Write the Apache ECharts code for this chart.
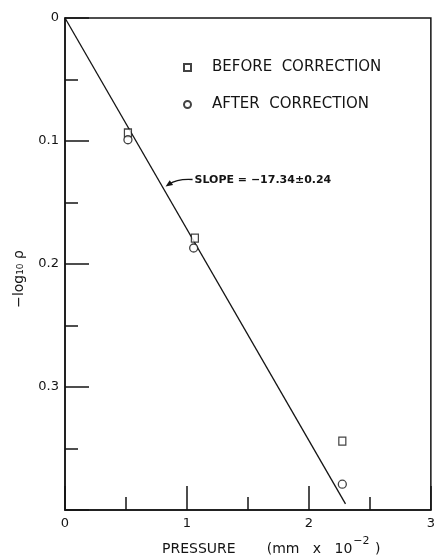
<!DOCTYPE html>
<html><head><meta charset="utf-8">
<script src="https://cdn.jsdelivr.net/npm/echarts@6/dist/echarts.min.js"></script>
<style>html,body{margin:0;padding:0;background:#fff}#c{width:438px;height:557px}</style>
</head><body><div id="c"></div>
<script>
// ---- data ----
const yTickLabels = ['0', '0.1', '0.2', '0.3', ''];
const xTickLabels = ['0', '1', '2', '3'];
const beforeX = [0.516, 1.065, 2.274];
const beforeY = [0.0935, 0.179, 0.344];
const afterX = [0.516, 1.055, 2.274];
const afterY = [0.099, 0.187, 0.379];
const fitX = [0, 2.30];
const fitY = [0, 0.395];
const seriesNames = ['BEFORE  CORRECTION', 'AFTER  CORRECTION'];
const slopeText = 'SLOPE = \u221217.34\u00b10.24';
const xTitleParts = ['PRESSURE       (mm   x   10', '\u22122', ' )'];
const yTitle = '\u2212log\u2081\u2080 \u03c1';

const INK = '#141414';
const FONT = 'DejaVu Sans';
const zip = (xs, ys) => xs.map((x, i) => [x, ys[i]]);

const chart = echarts.init(document.getElementById('c'), null, {renderer: 'canvas'});
const axisCommon = () => ({
  axisLine: {show: true, onZero: false, lineStyle: {color: INK, width: 1.5}},
  axisTick: {show: true, inside: true, length: 24, lineStyle: {color: INK, width: 1.5}},
  minorTick: {show: true, splitNumber: 2, length: 13, lineStyle: {color: INK, width: 1.5}},
  splitLine: {show: false},
  minorSplitLine: {show: false}
});
chart.setOption({
  animation: false,
  backgroundColor: '#fff',
  grid: {left: 65, right: 2, top: 18, bottom: 47, show: true, borderColor: INK, borderWidth: 1.5, backgroundColor: 'transparent'},
  xAxis: Object.assign({
    type: 'value', position: 'bottom', min: 0, max: 3, interval: 1,
    axisLabel: {color: INK, fontSize: 13, fontFamily: FONT, margin: 7,
      formatter: v => xTickLabels[Math.round(v)] || ''}
  }, axisCommon()),
  yAxis: Object.assign({
    type: 'value', position: 'left', min: 0, max: 0.4, interval: 0.1, inverse: true,
    axisLabel: {color: INK, fontSize: 13, fontFamily: FONT, margin: 6,
      formatter: v => yTickLabels[Math.round(v * 10)] || ''}
  }, axisCommon()),
  legend: {
    orient: 'vertical', left: 183, top: 60, itemGap: 22, padding: 0,
    itemWidth: 7, itemHeight: 7,
    data: [{name: seriesNames[0], icon: 'rect'}, {name: seriesNames[1], icon: 'circle'}],
    textStyle: {color: INK, fontSize: 15, fontFamily: FONT, lineHeight: 15, padding: [0, 0, 0, 16]}
  },
  series: [
    {type: 'line', data: zip(fitX, fitY), showSymbol: false, symbol: 'none',
     lineStyle: {color: INK, width: 1.3}, z: 2, silent: true},
    {type: 'scatter', name: seriesNames[0], symbol: 'rect', symbolSize: [7, 8],
     data: zip(beforeX, beforeY),
     itemStyle: {color: '#fff', borderColor: INK, borderWidth: 1.3}, z: 3},
    {type: 'scatter', name: seriesNames[1], symbol: 'circle', symbolSize: 8,
     data: zip(afterX, afterY),
     itemStyle: {color: '#fff', borderColor: INK, borderWidth: 1.3}, z: 3}
  ]
});

// annotation anchored to the fitted line
const tip = chart.convertToPixel({seriesIndex: 0}, [0.80, 0.137]);
const tx = tip[0] + 3, ty = tip[1];
const sx = tx + 27, sy = ty - 7;
const cx = tx + 12, cy = ty - 8;
const dx = tx - cx, dy = ty - cy, L = Math.hypot(dx, dy);
const ux = dx / L, uy = dy / L;
const ah = 7, aw = 3;
chart.setOption({
  graphic: [
    {type: 'bezierCurve', shape: {x1: sx, y1: sy, x2: tx - ux * 4, y2: ty - uy * 4, cpx1: cx, cpy1: cy},
     style: {stroke: INK, lineWidth: 1.3, fill: null}},
    {type: 'polygon', shape: {points: [[tx, ty],
      [tx - ux * ah - uy * aw, ty - uy * ah + ux * aw],
      [tx - ux * ah + uy * aw, ty - uy * ah - ux * aw]]},
     style: {fill: INK}},
    {type: 'text', left: sx + 2, top: sy - 5,
     style: {text: slopeText, fill: INK, font: 'bold 11px "' + FONT + '"'}},
    {type: 'text', left: 162, top: 536,
     style: {
       text: '{a|' + xTitleParts[0] + '}{s|' + xTitleParts[1] + '}{a|' + xTitleParts[2] + '}',
       fill: INK,
       rich: {
         a: {fontSize: 14, fontFamily: FONT, fill: INK, lineHeight: 20, verticalAlign: 'bottom'},
         s: {fontSize: 11, fontFamily: FONT, fill: INK, lineHeight: 20, verticalAlign: 'top', padding: [0, 1, 0, 1]}
       }
     }},
    {type: 'text', x: 19, y: 279, rotation: Math.PI / 2,
     style: {text: yTitle, fill: INK, font: '14px "' + FONT + '"', align: 'center', verticalAlign: 'middle'}}
  ]
});
</script>
</body></html>
